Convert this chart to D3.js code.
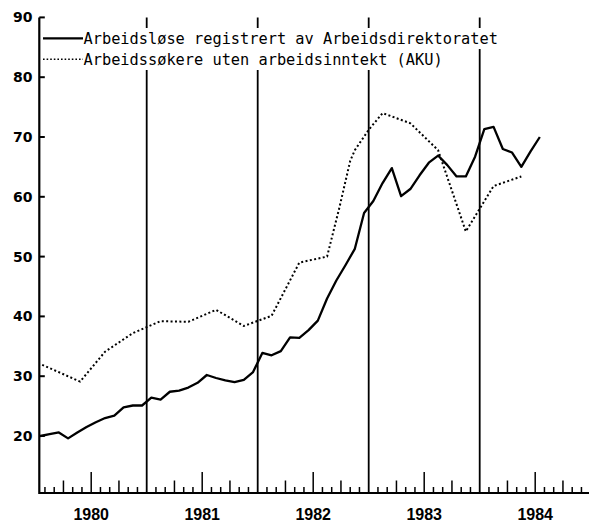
<!DOCTYPE html>
<html>
<head>
<meta charset="utf-8">
<script src="https://cdn.jsdelivr.net/npm/d3@7"></script>
<style>
  body { margin: 0; background: #fff; }
  .tick-label { font-family: "DejaVu Sans", sans-serif; font-weight: bold; font-size: 14px; }
  .year-label { font-family: "Liberation Sans", sans-serif; font-weight: bold; font-size: 16px; }
  .legend-text { font-family: "DejaVu Sans Mono", monospace; font-size: 15.3px; }
</style>
</head>
<body>
<div id="chart"></div>
<script>
// registered unemployed (thousands), monthly from Jan 1980
var registrert = [
  20.0, 20.3, 20.6, 19.6, 20.6, 21.5, 22.3, 23.0, 23.4, 24.8, 25.1, 25.1,
  26.4, 26.1, 27.4, 27.6, 28.1, 28.9, 30.2, 29.7, 29.3, 29.0, 29.4, 30.7,
  33.9, 33.5, 34.2, 36.5, 36.4, 37.7, 39.3, 43.0, 46.0, 48.6, 51.3, 57.3,
  59.3, 62.3, 64.8, 60.1, 61.3, 63.6, 65.7, 66.9, 65.3, 63.4, 63.4, 66.7,
  71.3, 71.7, 68.0, 67.4, 65.0, 67.6, 70.0
];

// job seekers without income (AKU), months since Jan 1980 + value
var akuMonths = [0.7, 4.8, 7.5, 10.5, 13.5, 16.5, 19.5, 22.5, 25.5, 28.5, 31.5,
                 32.8, 34.0, 34.5, 36.0, 37.5, 40.5, 43.5, 46.5, 49.5, 52.5];
var akuValues = [31.9, 29.1, 34.1, 37.2, 39.2, 39.1, 41.1, 38.4, 40.1, 49.0, 50.0,
                 58.0, 66.0, 67.8, 71.2, 74.0, 72.3, 67.8, 54.2, 61.8, 63.4];

var yTicks = [20, 30, 40, 50, 60, 70, 80, 90];
var yearLabels = ["1980", "1981", "1982", "1983", "1984"];
var legendLabels = [
  "Arbeidsløse registrert av Arbeidsdirektoratet",
  "Arbeidssøkere uten arbeidsinntekt (AKU)"
];

var width = 590, height = 522;
var axisLeft = 39.3, axisBottom = 493, axisRight = 589;

var svg = d3.select("#chart").append("svg")
    .attr("width", width)
    .attr("height", height);

// months since Jan 1980
var x = d3.scaleLinear().domain([0, 60]).range([35.7, 590.7]);
var y = d3.scaleLinear().domain([20, 90]).range([436, 17.4]);

// vertical year separators
svg.append("g").selectAll("line")
    .data([12, 24, 36, 48])
    .enter().append("line")
    .attr("x1", function (d) { return x(d); })
    .attr("x2", function (d) { return x(d); })
    .attr("y1", y(90))
    .attr("y2", axisBottom)
    .attr("stroke", "#000")
    .attr("stroke-width", 1.8);

// y axis
svg.append("line")
    .attr("x1", axisLeft).attr("x2", axisLeft)
    .attr("y1", y(90)).attr("y2", axisBottom + 1)
    .attr("stroke", "#000").attr("stroke-width", 2.2);

var gy = svg.append("g").selectAll("g")
    .data(yTicks)
    .enter().append("g");
gy.append("line")
    .attr("x1", axisLeft).attr("x2", axisLeft + 5.5)
    .attr("y1", function (d) { return y(d); })
    .attr("y2", function (d) { return y(d); })
    .attr("stroke", "#000").attr("stroke-width", 2);
gy.append("text")
    .attr("class", "tick-label")
    .attr("x", 32.5)
    .attr("y", function (d) { return y(d) + 5; })
    .attr("text-anchor", "end")
    .text(function (d) { return d; });

// x axis with month ticks
svg.append("line")
    .attr("x1", axisLeft).attr("x2", axisRight)
    .attr("y1", axisBottom).attr("y2", axisBottom)
    .attr("stroke", "#000").attr("stroke-width", 2.2);

var months = d3.range(1, 60).filter(function (m) { return m % 12 !== 0; });
svg.append("g").selectAll("line")
    .data(months)
    .enter().append("line")
    .attr("x1", function (d) { return x(d); })
    .attr("x2", function (d) { return x(d); })
    .attr("y1", axisBottom)
    .attr("y2", function (d) {
        var k = d % 12;
        if (k === 6) return axisBottom - 21;
        if (k === 3 || k === 9) return axisBottom - 12.5;
        return axisBottom - 6;
    })
    .attr("stroke", "#000").attr("stroke-width", 1.5);

svg.append("g").selectAll("text")
    .data(yearLabels)
    .enter().append("text")
    .attr("class", "year-label")
    .attr("x", function (d, i) { return x(i * 12 + 6); })
    .attr("y", 520)
    .attr("text-anchor", "middle")
    .text(function (d) { return d; });

// data lines
var lineReg = d3.line()
    .x(function (d, i) { return x(i + 0.5); })
    .y(function (d) { return y(d); });

svg.append("path")
    .datum(registrert)
    .attr("d", lineReg)
    .attr("fill", "none")
    .attr("stroke", "#000")
    .attr("stroke-width", 2.3)
    .attr("stroke-linejoin", "round");

var lineAku = d3.line()
    .x(function (d) { return x(d[0]); })
    .y(function (d) { return y(d[1]); });

svg.append("path")
    .datum(akuMonths.map(function (m, i) { return [m, akuValues[i]]; }))
    .attr("d", lineAku)
    .attr("fill", "none")
    .attr("stroke", "#000")
    .attr("stroke-width", 2)
    .attr("stroke-dasharray", "2,2.4");

// legend
var legendRows = [43.5, 64.5];
var lg = svg.append("g").selectAll("g")
    .data(legendLabels)
    .enter().append("g");

var texts = lg.append("text")
    .attr("class", "legend-text")
    .attr("x", 83.5)
    .attr("y", function (d, i) { return legendRows[i]; })
    .text(function (d) { return d; });

// white background behind each legend row
lg.each(function (d, i) {
    var t = d3.select(this).select("text");
    var bb = t.node().getBBox();
    d3.select(this).insert("rect", "text")
        .attr("x", bb.x - 1)
        .attr("y", legendRows[i] - 15.5)
        .attr("width", bb.width + 3)
        .attr("height", 21)
        .attr("fill", "#fff");
});

lg.append("line")
    .attr("x1", 43).attr("x2", 83)
    .attr("y1", function (d, i) { return legendRows[i] - 5.2; })
    .attr("y2", function (d, i) { return legendRows[i] - 5.2; })
    .attr("stroke", "#000")
    .attr("stroke-width", function (d, i) { return i === 0 ? 2.3 : 1.6; })
    .attr("stroke-dasharray", function (d, i) { return i === 0 ? null : "1.6,2"; });
</script>
</body>
</html>
